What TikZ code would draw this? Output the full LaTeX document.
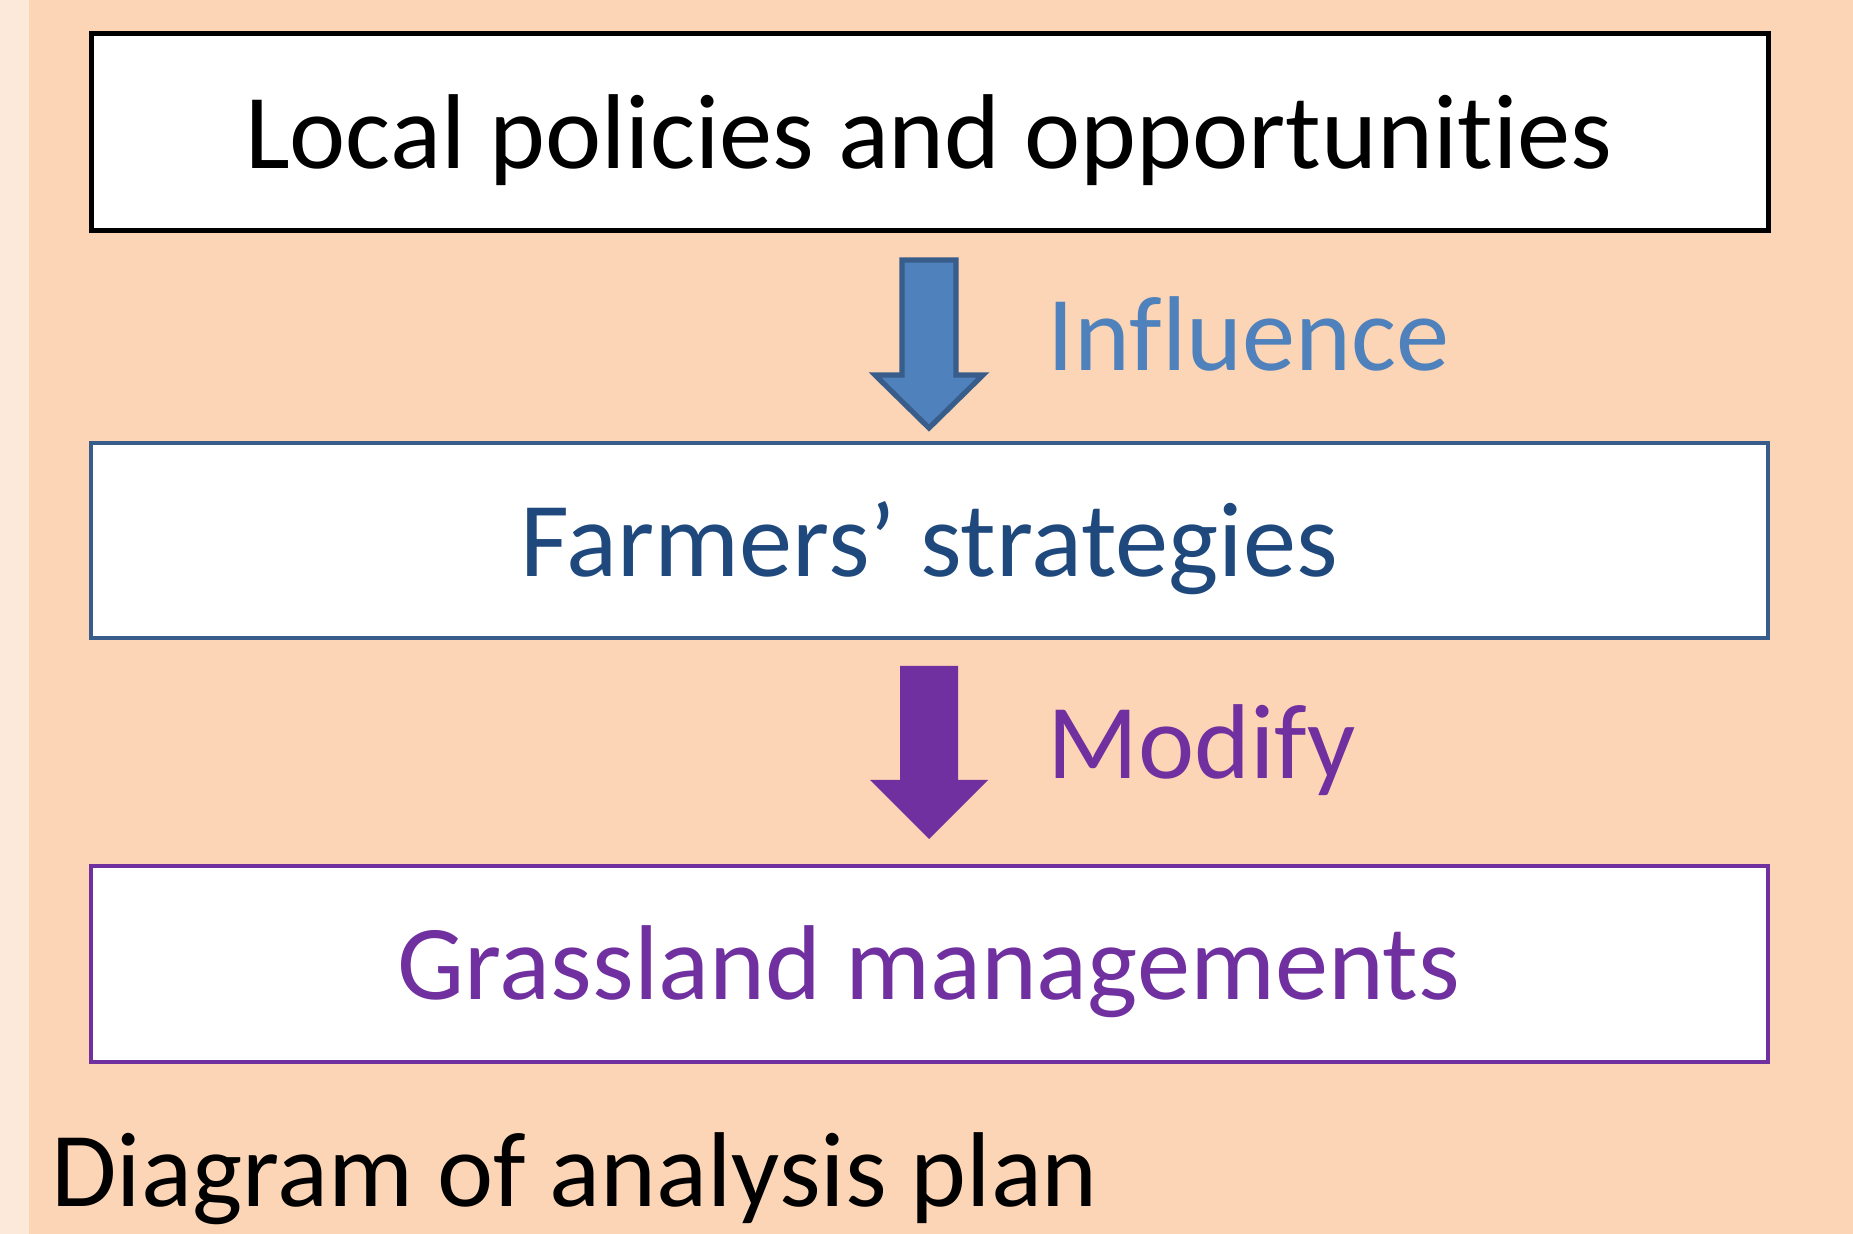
\documentclass[tikz,border=0pt]{standalone}
\usepackage{fontspec}
\setmainfont{Carlito}[Ligatures=NoCommon]
\definecolor{bgpeach}{HTML}{FBD5B5}
\definecolor{strip}{HTML}{FDE9D9}
\definecolor{accblue}{HTML}{4F81BD}
\definecolor{darkblue}{HTML}{385D8A}
\definecolor{navytext}{HTML}{1F497D}
\definecolor{purp}{HTML}{7030A0}
\tikzset{
  box/.style={draw, fill=white, rectangle, minimum width=838.5pt, minimum height=98.5pt, inner sep=0pt},
  lbl/.style={anchor=base, inner sep=0pt, font=\fontsize{53.2}{60}\selectfont},
  sidelbl/.style={anchor=base west, inner sep=0pt, font=\fontsize{53.2}{60}\selectfont},
}
\begin{document}
\begin{tikzpicture}[x=0.5pt,y=-0.5pt]
\useasboundingbox (0,0) rectangle (1853,1234);
\fill[bgpeach] (0,0) rectangle (1853,1234);
\fill[strip] (0,0) rectangle (29,1234);
% boxes
\node[box, line width=2.5pt, draw=black] (b1) at (929.5,132.5) {};
\node[box, line width=1.9pt, draw=darkblue, minimum height=97.5pt] (b2) at (929.5,540.5) {};
\node[box, line width=2.3pt, draw=purp, minimum height=98pt] (b3) at (929.5,964) {};
% texts
\node[lbl] (t1) at (929,169) {Local policies and opportunities};
\node[lbl, text=navytext] (t2) at (929,577) {Farmers’ strategies};
\node[lbl, text=purp] (t3) at (929,999) {Grassland managements};
% arrows
\draw[fill=accblue, draw=darkblue, line width=2.6pt, miter limit=10]
  (902,260) -- (956,260) -- (956,375) -- (983,375) -- (929,428) -- (875,375) -- (902,375) -- cycle;
\fill[purp] (900,666) -- (958,666) -- (958,780) -- (988,780) -- (929,839) -- (870,780) -- (900,780) -- cycle;
\node[sidelbl, text=accblue] (l1) at (1047,371) {Influence};
\node[sidelbl, text=purp] (l2) at (1047,779) {Modify};
\node[sidelbl] (cap) at (51,1206) {Diagram of analysis plan};
\end{tikzpicture}
\end{document}
